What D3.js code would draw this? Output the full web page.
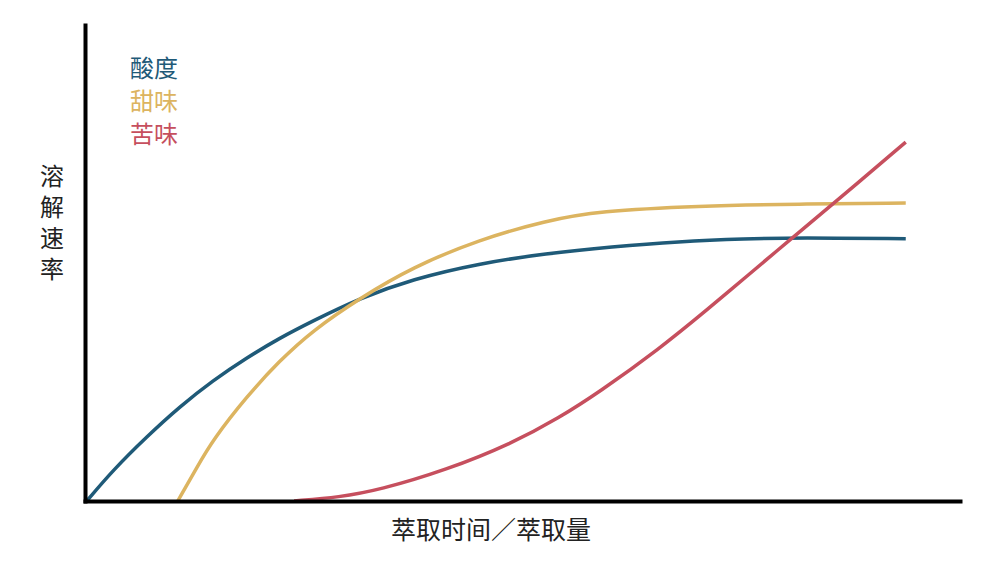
<!DOCTYPE html>
<html>
<head>
<meta charset="utf-8">
<script src="https://cdn.jsdelivr.net/npm/d3@7"></script>
<style>
  html, body { margin: 0; padding: 0; background: #fff; }
  text { font-family: "Noto Sans CJK SC", "Noto Sans", sans-serif; }
</style>
</head>
<body>
<div id="graf"></div>
<script>
// Datos (x: tiempo/cantidad de extracción, y: velocidad de disolución)
series = ['酸度', '甜味', '苦味']
colores = ['#1f5a78', '#dcb460', '#c64f5e']

acidezX = [0.2, 3.2, 7.1, 10.8, 14.6, 18.5, 22.2, 26.0, 31.4, 37.4, 45.0, 52.7, 60.2, 67.8, 75.5, 81.5, 93.8]
acidezY = [0, 6.5, 13.6, 19.8, 25.3, 30.1, 34.2, 37.8, 42.6, 46.6, 49.9, 52.0, 53.4, 54.5, 55.1, 55.3, 55.1]

dulzorX = [10.6, 12.8, 14.6, 18.5, 22.2, 26.0, 31.4, 37.4, 45.0, 52.7, 58.7, 70.1, 81.5, 93.8]
dulzorY = [0, 7.1, 12.8, 22.0, 29.4, 35.8, 42.6, 49.1, 54.9, 58.9, 60.9, 62.0, 62.4, 62.6]

amargorX = [23.9, 29.1, 33.6, 41.3, 48.8, 54.2, 58.7, 65.6, 71.3, 75.5, 80.7, 85.5, 93.8]
amargorY = [0, 0.8, 2.3, 6.5, 12.1, 17.5, 22.8, 31.9, 40.5, 47.0, 55.1, 62.4, 75.4]

tituloX = '萃取时间／萃取量'
tituloY = '溶解速率'

ancho_total = 1000
alto_total = 575

svg = d3.select('#graf').append('svg')
        .attr('width', ancho_total)
        .attr('height', alto_total)

// Escaladores
x = d3.scaleLinear().domain([0, 100]).range([85, 960])
y = d3.scaleLinear().domain([0, 100]).range([501, 25])

// Generador de líneas (suavizado)
lineaGen = d3.line()
             .x(d => x(d[0]))
             .y(d => y(d[1]))
             .curve(d3.curveBasis)

datos = [
  d3.zip(acidezX, acidezY),
  d3.zip(dulzorX, dulzorY),
  d3.zip(amargorX, amargorY)
]

svg.selectAll('path.linea')
   .data(datos)
   .enter()
   .append('path')
   .attr('class', 'linea')
   .attr('fill', 'none')
   .attr('stroke', (d, i) => colores[i])
   .attr('stroke-width', 3.5)
   .attr('d', d => lineaGen(d))

// Ejes (sin ticks, solo la línea)
xAxis = svg.append('g')
           .attr('transform', `translate(0, ${y(0)})`)
           .call(d3.axisBottom(x).ticks(0).tickSizeOuter(0))
yAxis = svg.append('g')
           .attr('transform', `translate(${x(0)}, 0)`)
           .call(d3.axisLeft(y).ticks(0).tickSizeOuter(0))

svg.selectAll('.domain')
   .attr('stroke', '#000')
   .attr('stroke-width', 4)
   .attr('stroke-linecap', 'square')

// Leyenda
svg.selectAll('text.leyenda')
   .data(series)
   .enter()
   .append('text')
   .attr('class', 'leyenda')
   .attr('x', 130)
   .attr('y', (d, i) => 66 + i * 33)
   .attr('dominant-baseline', 'central')
   .attr('font-size', 24)
   .attr('fill', (d, i) => colores[i])
   .text(d => d)

// Títulos de ejes
svg.append('text')
   .attr('x', 491)
   .attr('y', 528)
   .attr('text-anchor', 'middle')
   .attr('dominant-baseline', 'central')
   .attr('font-size', 25)
   .attr('fill', '#222')
   .text(tituloX)

// Título vertical
svg.append('text')
   .attr('x', 52)
   .attr('y', 164)
   .attr('writing-mode', 'tb')
   .attr('glyph-orientation-vertical', 0)
   .attr('letter-spacing', 7)
   .attr('font-size', 24)
   .attr('fill', '#222')
   .text(tituloY)
</script>
</body>
</html>
